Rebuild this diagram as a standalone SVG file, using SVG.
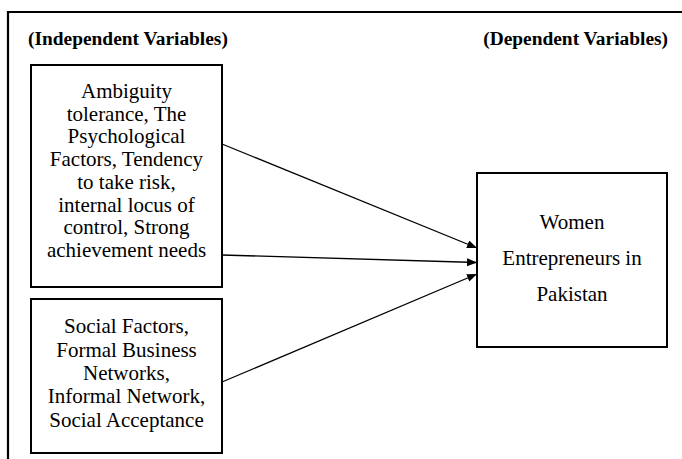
<svg xmlns="http://www.w3.org/2000/svg" width="682" height="459" viewBox="0 0 682 459">
<defs>
<style>
.box{fill:#fff;stroke:#000;stroke-width:2}
.t{font-family:"Liberation Serif","Times New Roman",serif;font-size:21px;fill:#000;text-anchor:middle}
.h{font-family:"Liberation Serif","Times New Roman",serif;font-size:19.4px;font-weight:bold;fill:#000}
.ln{stroke:#000;stroke-width:1.3;fill:none;marker-end:url(#ah)}
</style>
<marker id="ah" markerUnits="userSpaceOnUse" markerWidth="12" markerHeight="10" refX="10" refY="4" orient="auto">
<path d="M0,0 L10,4 L0,8 Z" fill="#000"/>
</marker>
</defs>
<rect width="682" height="459" fill="#fff"/>
<g id="frame">
<path d="M8,459 V12 H682" fill="none" stroke="#000" stroke-width="2.2"/>
</g>
<g id="headers">
<text class="h" x="28" y="45">(Independent Variables)</text>
<text class="h" x="668" y="45" text-anchor="end">(Dependent Variables)</text>
</g>
<g id="connectors">
<line class="ln" x1="222" y1="144" x2="477" y2="248"/>
<line class="ln" x1="222" y1="255" x2="477" y2="262.5"/>
<line class="ln" x1="222" y1="382" x2="477" y2="274"/>
</g>
<g id="psych">
<rect class="box" x="31" y="65" width="191" height="222"/>
<text class="t" x="126.5" y="98">Ambiguity</text>
<text class="t" x="126.5" y="120.7">tolerance, The</text>
<text class="t" x="126.5" y="143.4">Psychological</text>
<text class="t" x="126.5" y="166.1">Factors, Tendency</text>
<text class="t" x="126.5" y="188.8">to take risk,</text>
<text class="t" x="126.5" y="211.5">internal locus of</text>
<text class="t" x="126.5" y="234.2">control, Strong</text>
<text class="t" x="126.5" y="256.9">achievement needs</text>
</g>
<g id="social">
<rect class="box" x="31" y="299" width="191" height="154"/>
<text class="t" x="126.5" y="333.3">Social Factors,</text>
<text class="t" x="126.5" y="356.6">Formal Business</text>
<text class="t" x="126.5" y="379.9">Networks,</text>
<text class="t" x="126.5" y="403.2">Informal Network,</text>
<text class="t" x="126.5" y="426.5">Social Acceptance</text>
</g>
<g id="women">
<rect class="box" x="477" y="173" width="190" height="174"/>
<text class="t" x="572" y="228.5">Women</text>
<text class="t" x="572" y="265">Entrepreneurs in</text>
<text class="t" x="572" y="300.5">Pakistan</text>
</g>
</svg>
